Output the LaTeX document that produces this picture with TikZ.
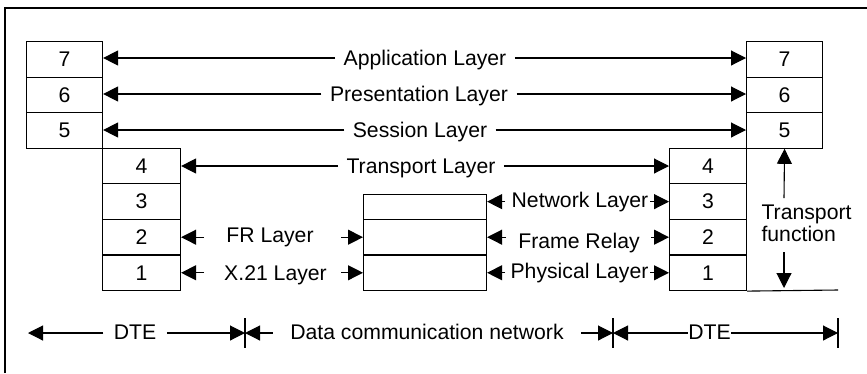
\documentclass[tikz,border=0pt]{standalone}
\usepackage{fontspec}
\setmainfont{Liberation Sans}
\usetikzlibrary{arrows.meta,calc}
\begin{document}
\begin{tikzpicture}[x=1pt,y=-1pt,line width=1.1pt,
  every node/.style={font=\fontsize{21.2}{22}\selectfont},
  cell/.style={draw, line width=1.1pt, minimum width=76pt, minimum height=35.57pt, inner sep=0pt, anchor=north west},
  lbl/.style={text height=15.2pt, text depth=0pt, inner ysep=0pt, inner xsep=8pt},
  arr/.style={-{Triangle[length=15pt,width=15pt]}}]
\useasboundingbox (0,0) rectangle (867,373);
% frame
\coordinate (fa) at (5,373);
\coordinate (fb) at (5,8);
\coordinate (fc) at (867,8);
\draw (fa) -- (fb) -- (fc);
% left stacks
\node[cell] (L7) at (26,41) {7};
\node[cell] (L6) at (26,76.57) {6};
\node[cell] (L5) at (26,112.14) {5};
\node[cell, minimum width=78pt] (L4) at (102,147.71) {4};
\node[cell, minimum width=78pt] (L3) at (102,183.29) {3};
\node[cell, minimum width=78pt] (L2) at (102,218.86) {2};
\node[cell, minimum width=78pt] (L1) at (102,254.43) {1};
% right stacks
\node[cell] (R7) at (746,41) {7};
\node[cell] (R6) at (746,76.57) {6};
\node[cell] (R5) at (746,112.14) {5};
\node[cell, minimum width=77pt] (R4) at (669,147.71) {4};
\node[cell, minimum width=77pt] (R3) at (669,183.29) {3};
\node[cell, minimum width=77pt] (R2) at (669,218.86) {2};
\node[cell, minimum width=77pt] (R1) at (669,254.43) {1};
\coordinate (rend) at (838,290);
\draw (R1.south east) -- (rend);
% network box
\node[cell, minimum width=123pt, minimum height=24.86pt] (N3) at (363,194) {};
\node[cell, minimum width=123pt] (N2) at (363,218.86) {};
\node[cell, minimum width=123pt] (N1) at (363,254.43) {};
% peer layers
\node[lbl] (app) at (425,58) {Application Layer};
\draw[arr] (app.west) -- (L7.east |- app);
\draw[arr] (app.east) -- (R7.west |- app);
\node[lbl] (pre) at (419,94) {Presentation Layer};
\draw[arr] (pre.west) -- (L6.east |- pre);
\draw[arr] (pre.east) -- (R6.west |- pre);
\node[lbl] (ses) at (420,130) {Session Layer};
\draw[arr] (ses.west) -- (L5.east |- ses);
\draw[arr] (ses.east) -- (R5.west |- ses);
\node[lbl] (tra) at (421,166) {Transport Layer};
\draw[arr] (tra.west) -- (L4.east |- tra);
\draw[arr] (tra.east) -- (R4.west |- tra);
% DTE - network
\node[lbl] (frl) at (270,235) {FR Layer};
\draw[arr] ($(L2.east)+(23,0)$) -- (L2.east);
\draw[arr] ($(N2.west)+(-22,0)$) -- (N2.west);
\node[lbl] (x21) at (275.5,273) {X.21 Layer};
\draw[arr] ($(L1.east)+(23,0)$) -- (L1.east);
\draw[arr] ($(N1.west)+(-22,0)$) -- (N1.west);
% network - DTE
\node[lbl] (net) at (580,200) {Network Layer};
\draw[arr] ($(N3.east |- R3)+(18,0)$) -- (N3.east |- R3);
\draw[arr] ($(R3.west)+(-19,0)$) -- (R3.west);
\node[lbl] (frm) at (579,240.5) {Frame Relay};
\draw[arr] ($(N2.east)+(19,0)$) -- (N2.east);
\draw[arr] ($(R2.west)+(-18,0)$) -- (R2.west);
\node[lbl] (phy) at (579.5,271) {Physical Layer};
\draw[arr] ($(N1.east)+(18,0)$) -- (N1.east);
\draw[arr] ($(R1.west)+(-19,0)$) -- (R1.west);
% transport function
\node[align=left, anchor=base west, inner sep=0pt] (tf) at (761,241) {Transport\\function};
\coordinate (tfu) at (784,198);
\coordinate (tfd) at (784,252);
\coordinate (tfe) at (784,288);
\draw[arr] (tfu) -- (R5.south);
\draw[arr] (tfd) -- (tfe);
% bottom scale
\coordinate (t0) at (28,333);
\coordinate (t1) at (245,333);
\coordinate (t2) at (613,333);
\coordinate (t3) at (838,333);
\node[lbl, inner xsep=10pt] (dte1) at (135,332) {DTE};
\draw[arr] (dte1.west |- t0) -- (t0);
\draw[arr] (dte1.east |- t1) -- (t1);
\node[lbl, inner xsep=17pt] (dcn) at (427,332) {Data communication network};
\draw[arr] (dcn.west |- t1) -- (t1);
\draw[arr] (dcn.east |- t2) -- (t2);
\node[lbl, inner xsep=0pt] (dte2) at (709.5,332) {DTE};
\draw[arr] (dte2.west |- t2) -- (t2);
\draw[arr] (dte2.east |- t3) -- (t3);
\foreach \t in {t1,t2,t3} \draw ($(\t)+(0,-15)$) -- ($(\t)+(0,15)$);
\end{tikzpicture}
\end{document}
